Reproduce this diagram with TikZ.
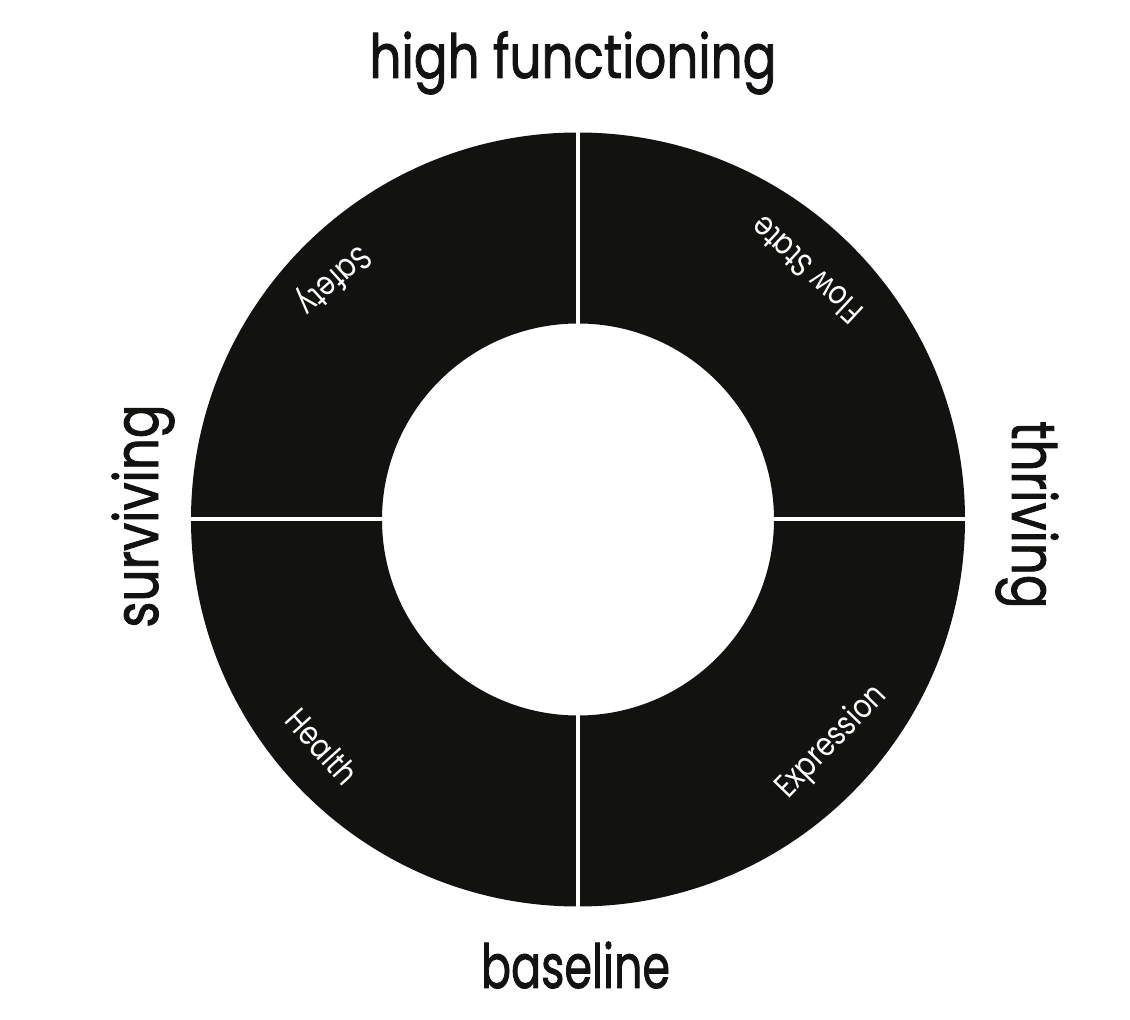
\documentclass[tikz,border=0pt]{standalone}
\usepackage{fontspec}
\setmainfont{Poppins}
\newfontfamily\heavyfont{Poppins}[FakeBold=1.6]
\usepackage{graphicx}
\usetikzlibrary{calc}
\definecolor{ringblack}{RGB}{18,18,17}
\newcommand{\biglabel}[2][0.82]{\scalebox{#1}[1]{\heavyfont\fontsize{61}{61}\selectfont #2}}
\newcommand{\seglabel}[1]{\scalebox{0.83}[1]{\fontsize{33}{33}\selectfont #1}}
\begin{document}
\begin{tikzpicture}[x=1pt,y=1pt,
  bigtext/.style={inner sep=0pt, anchor=base, text=ringblack},
  segtext/.style={inner sep=0pt, text=white},
  gapline/.style={white, line width=4pt}]
\useasboundingbox[fill=white] (0,0) rectangle (1130,1020);
\coordinate (C) at (578,500.5);
\fill[ringblack, even odd rule] (C) circle[radius=387] (C) circle[radius=196];
\coordinate (gN) at ($(C)+(0,392)$);
\coordinate (gS) at ($(C)+(0,-392)$);
\coordinate (gW) at ($(C)+(-392,0)$);
\coordinate (gE) at ($(C)+(392,0)$);
\draw[gapline] (gS) -- (gN);
\draw[gapline] (gW) -- (gE);
\node[bigtext] (top) at (573,942) {\biglabel{high functioning}};
\node[bigtext] (bottom) at (575.5,32) {\biglabel[0.73]{baseline}};
\node[bigtext, rotate=90] (left) at (158,504) {\biglabel{surviving}};
\node[bigtext, rotate=-90] (right) at (1012,505) {\biglabel{thriving}};
\node[segtext, rotate=222] (safety) at ($(C)+(135.6:343)$) {\seglabel{Safety}};
\node[segtext, rotate=137] (flow) at ($(C)+(47.5:338)$) {\seglabel{Flow State}};
\node[segtext, rotate=-48] (health) at ($(C)+(221.6:342)$) {\seglabel{Health}};
\node[segtext, rotate=46] (expr) at ($(C)+(-41.3:338)$) {\seglabel{Expression}};
\end{tikzpicture}
\end{document}
